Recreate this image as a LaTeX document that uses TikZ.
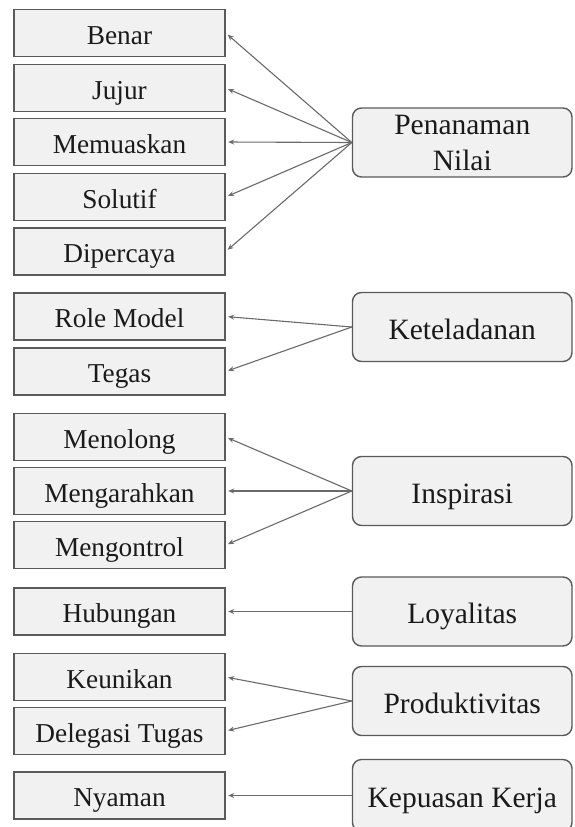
\documentclass[tikz,border=0pt]{standalone}
\usepackage{fontspec}
\setmainfont{Liberation Serif}
\usetikzlibrary{arrows.meta}
\definecolor{boxfill}{HTML}{F1F1F1}
\definecolor{boxline}{HTML}{5A5A5A}
\definecolor{arrowc}{HTML}{6A6A6A}
\definecolor{txt}{HTML}{1A1A1A}
\begin{document}
\begin{tikzpicture}[x=1pt,y=-1pt,
  leftbox/.style={draw=boxline, line width=1.4pt, fill=boxfill, minimum width=211pt, minimum height=47pt, inner sep=0pt, text height=24pt, text depth=2pt, font=\fontsize{27.3}{36}\selectfont, text=txt},
  rightbox/.style={leftbox, rounded corners=9pt, minimum width=219.5pt, minimum height=69pt, text height=26pt, text depth=2pt, font=\fontsize{29.5}{36}\selectfont},
  conn/.style={draw=arrowc, line width=1.1pt, -{Stealth[length=6pt,width=5pt]}, shorten >=2.5pt}]
\useasboundingbox (0,0) rectangle (574,827);
\fill[white] (0,0) rectangle (574,827);
% left boxes
\node[leftbox] (benar) at (119.5,33) {Benar};
\node[leftbox] (jujur) at (119.5,88) {Jujur};
\node[leftbox] (memuaskan) at (119.5,142) {Memuaskan};
\node[leftbox] (solutif) at (119.5,197) {Solutif};
\node[leftbox] (dipercaya) at (119.5,251.5) {Dipercaya};
\node[leftbox] (role) at (119.5,316.5) {Role Model};
\node[leftbox] (tegas) at (119.5,371.5) {Tegas};
\node[leftbox] (menolong) at (119.5,437) {Menolong};
\node[leftbox] (mengarahkan) at (119.5,491) {Mengarahkan};
\node[leftbox] (mengontrol) at (119.5,545) {Mengontrol};
\node[leftbox] (hubungan) at (119.5,611.5) {Hubungan};
\node[leftbox] (keunikan) at (119.5,677) {Keunikan};
\node[leftbox] (delegasi) at (119.5,731) {Delegasi Tugas};
\node[leftbox] (nyaman) at (119.5,795.5) {Nyaman};
% right boxes
\node[rightbox, align=center, text height=, text depth=] (pn) at (462.25,142.5) {Penanaman\\Nilai};
\node[rightbox] (ket) at (462.25,327) {Keteladanan};
\node[rightbox] (ins) at (462.25,491) {Inspirasi};
\node[rightbox] (loy) at (462.25,611.5) {Loyalitas};
\node[rightbox] (prod) at (462.25,701) {Produktivitas};
\node[rightbox, minimum height=72pt] (kep) at (462.25,795.5) {Kepuasan Kerja};
% connectors
\draw[conn] (pn.west) -- (benar.east);
\draw[conn] (pn.west) -- (jujur.east);
\draw[conn] (pn.west) -- (memuaskan.east);
\draw[conn] (pn.west) -- (solutif.east);
\draw[conn] (pn.west) -- (dipercaya.east);
\draw[conn] (ket.west) -- (role.east);
\draw[conn] (ket.west) -- (tegas.east);
\draw[conn] (ins.west) -- (menolong.east);
\draw[conn] (ins.west) -- (mengarahkan.east);
\draw[conn] (ins.west) -- (mengontrol.east);
\draw[conn] (loy.west) -- (hubungan.east);
\draw[conn] (prod.west) -- (keunikan.east);
\draw[conn] (prod.west) -- (delegasi.east);
\draw[conn] (kep.west) -- (nyaman.east);
\end{tikzpicture}
\end{document}
